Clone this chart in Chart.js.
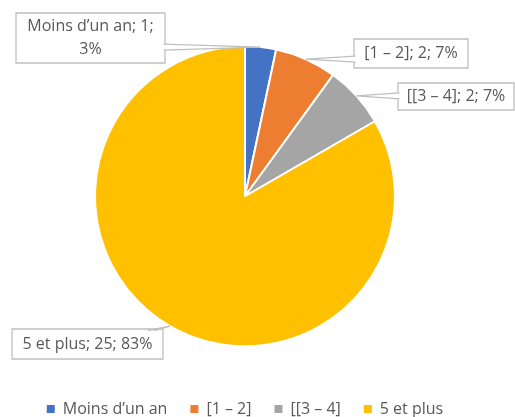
<!DOCTYPE html>
<html>
<head>
<meta charset="utf-8">
<script src="https://cdn.jsdelivr.net/npm/chart.js@4.4.0/dist/chart.umd.min.js"></script>
<style>
  html, body { margin: 0; padding: 0; background: #fff; }
  #wrap { width: 515px; height: 417px; }
</style>
</head>
<body>
<div id="wrap"><canvas id="chart"></canvas></div>
<script>
  var categories = ['Moins d’un an', '[1 – 2]', '[[3 – 4]', '5 et plus'];
  var counts = [1, 2, 2, 25];
  var sliceColors = ['#4472C4', '#ED7D31', '#A5A5A5', '#FFC000'];

  // Callout boxes, one per slice: left, top, width, height.
  var calloutBoxes = [
    [16, 13, 149, 50],
    [354, 39, 114, 29],
    [398, 83, 116, 27],
    [12, 329, 151, 30]
  ];

  var FONT = '"Open Sans", "Noto Sans", sans-serif';
  var FONT_SIZE = 16;
  var TEXT_COLOR = '#595959';
  var BOX_BORDER = '#BFBFBF';

  function clamp(v, lo, hi) { return Math.max(lo, Math.min(hi, v)); }

  function wrapText(ctx, text, maxWidth) {
    var words = text.split(' ');
    var lines = [];
    var line = '';
    words.forEach(function (w) {
      var test = line ? line + ' ' + w : w;
      if (line && ctx.measureText(test).width > maxWidth) {
        lines.push(line);
        line = w;
      } else {
        line = test;
      }
    });
    if (line) lines.push(line);
    return lines;
  }

  /**
   * Draws Excel-like callout labels with a thin wedge pointing at each slice.
   */
  var calloutPlugin = {
    id: 'callouts',
    afterDatasetsDraw: function (chart) {
      var ctx = chart.ctx;
      var meta = chart.getDatasetMeta(0);
      var total = counts.reduce(function (a, b) { return a + b; }, 0);
      ctx.save();
      ctx.font = FONT_SIZE + 'px ' + FONT;
      ctx.lineWidth = 1.3;
      meta.data.forEach(function (arc, i) {
        var p = arc.getProps(['x', 'y', 'startAngle', 'endAngle', 'outerRadius'], true);
        var mid = (p.startAngle + p.endAngle) / 2;
        var ax = p.x + Math.cos(mid) * p.outerRadius;
        var ay = p.y + Math.sin(mid) * p.outerRadius;
        var b = calloutBoxes[i];
        var left = b[0], top = b[1], right = b[0] + b[2], bottom = b[1] + b[3];

        // Box.
        ctx.fillStyle = '#fff';
        ctx.strokeStyle = BOX_BORDER;
        ctx.beginPath();
        ctx.rect(left, top, b[2], b[3]);
        ctx.fill();
        ctx.stroke();

        // Wedge base on the box edge facing the slice.
        var b1, b2, half = 3, inset = 1.5;
        if (ax > right + 20) {
          var yy = clamp(ay, top + 8, bottom - 8);
          b1 = [right - inset, yy - half]; b2 = [right - inset, yy + half];
        } else if (ax < left - 20) {
          var yl = clamp(ay, top + 8, bottom - 8);
          b1 = [left + inset, yl - half]; b2 = [left + inset, yl + half];
        } else if (ay < (top + bottom) / 2) {
          var xt = clamp(ax, left + 12, right - 12);
          b1 = [xt - half, top + inset]; b2 = [xt + half, top + inset];
        } else {
          var xb = clamp(ax, left + 12, right - 12);
          b1 = [xb - half, bottom - inset]; b2 = [xb + half, bottom - inset];
        }
        ctx.beginPath();
        ctx.moveTo(b1[0], b1[1]);
        ctx.lineTo(ax, ay);
        ctx.lineTo(b2[0], b2[1]);
        ctx.closePath();
        ctx.fill();
        ctx.beginPath();
        ctx.moveTo(b1[0], b1[1]);
        ctx.lineTo(ax, ay);
        ctx.lineTo(b2[0], b2[1]);
        ctx.stroke();

        // Text.
        var pct = Math.round(counts[i] / total * 100);
        var text = categories[i] + '; ' + counts[i] + '; ' + pct + '%';
        var lines = wrapText(ctx, text, b[2] - 6);
        var lineH = 23;
        var cy = (top + bottom) / 2 - (lines.length - 1) * lineH / 2;
        ctx.fillStyle = TEXT_COLOR;
        ctx.textAlign = 'center';
        ctx.textBaseline = 'middle';
        lines.forEach(function (ln, k) {
          ctx.fillText(ln, (left + right) / 2, cy + k * lineH);
        });
      });
      ctx.restore();
    }
  };

  var ctx = document.getElementById('chart').getContext('2d');
  var chart = new Chart(ctx, {
    type: 'pie',
    data: {
      labels: categories,
      datasets: [{
        data: counts,
        backgroundColor: sliceColors,
        borderColor: '#ffffff',
        borderWidth: 2,
        radius: 150
      }]
    },
    options: {
      responsive: true,
      maintainAspectRatio: false,
      animation: false,
      layout: {
        padding: { top: 14.5, bottom: -10, left: 0, right: 25 }
      },
      plugins: {
        tooltip: { enabled: false },
        legend: {
          position: 'bottom',
          labels: {
            usePointStyle: true,
            pointStyle: 'rect',
            boxWidth: 8,
            boxHeight: 8,
            padding: 23,
            color: TEXT_COLOR,
            font: { family: FONT, size: FONT_SIZE },
            generateLabels: function (chart) {
              var items = Chart.overrides.pie.plugins.legend.labels.generateLabels(chart);
              items.forEach(function (it) {
                it.lineWidth = 0;
                it.strokeStyle = it.fillStyle;
              });
              return items;
            }
          }
        }
      }
    },
    plugins: [calloutPlugin]
  });
</script>
</body>
</html>
